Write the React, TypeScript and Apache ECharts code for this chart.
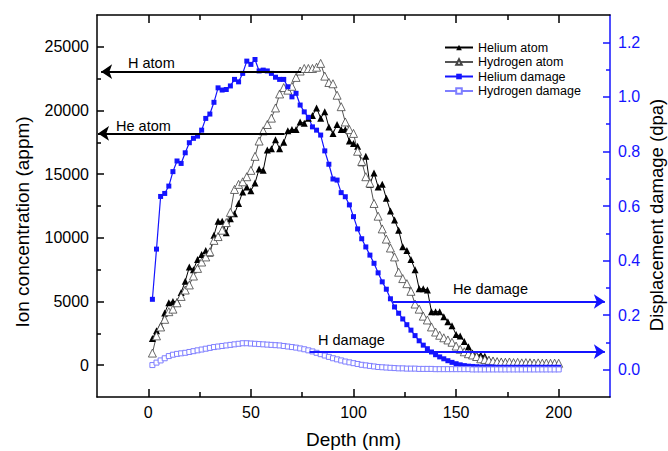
import React, { useEffect, useRef } from "react";
import * as echarts from "echarts";

const depth = [
  2, 4, 6, 8, 10, 12, 14, 16, 18, 20,
  22, 24, 26, 28, 30, 32, 34, 36, 38, 40,
  42, 44, 46, 48, 50, 52, 54, 56, 58, 60,
  62, 64, 66, 68, 70, 72, 74, 76, 78, 80,
  82, 84, 86, 88, 90, 92, 94, 96, 98, 100,
  102, 104, 106, 108, 110, 112, 114, 116, 118, 120,
  122, 124, 126, 128, 130, 132, 134, 136, 138, 140,
  142, 144, 146, 148, 150, 152, 154, 156, 158, 160,
  162, 164, 166, 168, 170, 172, 174, 176, 178, 180,
  182, 184, 186, 188, 190, 192, 194, 196, 198, 200,
];

const heliumAtom = [
  2100, 2700, 3100, 4100, 4900, 5000, 5000, 5700, 6600, 7700,
  7500, 8300, 8700, 9000, 8800, 10200, 11300, 11300, 10400, 11500,
  11900, 12700, 13600, 14000, 13700, 14300, 15400, 15300, 16900, 17000,
  17700, 17000, 17500, 18400, 18500, 18500, 19100, 19000, 19400, 19600,
  20200, 19400, 19900, 18700, 18200, 18900, 18500, 18500, 17600, 17400,
  17200, 15900, 16400, 14200, 15100, 14000, 14200, 13100, 12100, 11400,
  10600, 9300, 9000, 8300, 7500, 6000, 6000, 5900, 4200, 4200,
  4200, 3800, 3400, 3100, 2400, 2300, 1850, 1450, 950, 800,
  800, 700, 450, 350, 300, 250, 250, 150, 100, 100,
  80, 150, 230, 100, 60, 50, 50, 40, 30, 30,
];

const hydrogenAtom = [
  950, 2300, 3000, 3600, 4200, 4400, 4900, 5400, 5900, 6300,
  7000, 7600, 8100, 8500, 8900, 9800, 10100, 10600, 11200, 12000,
  13800, 14200, 14400, 14800, 15300, 16400, 17600, 18400, 18900, 19400,
  20200, 21300, 21800, 21600, 21900, 22600, 23100, 23300, 23300, 23300,
  23400, 23700, 22700, 22200, 22100, 21200, 20300, 19100, 18500, 18200,
  16800, 16000, 14800, 14300, 12700, 11700, 10700, 9900, 9200, 8500,
  7300, 6800, 6400, 5800, 4800, 4400, 3850, 3550, 3000, 2600,
  2350, 2150, 1980, 1800, 1500, 1250, 1050, 900, 800, 680,
  500, 450, 380, 330, 280, 250, 230, 250, 200, 220,
  180, 200, 190, 170, 180, 160, 170, 150, 160, 150,
];

const heliumDamage = [
  0.258, 0.442, 0.635, 0.646, 0.673, 0.726, 0.765, 0.756, 0.795, 0.832,
  0.848, 0.856, 0.878, 0.921, 0.937, 0.98, 1.033, 1.025, 1.027, 1.04,
  1.064, 1.055, 1.086, 1.131, 1.119, 1.137, 1.095, 1.098, 1.095, 1.086,
  1.072, 1.064, 1.064, 1.037, 1.0, 1.013, 0.97, 0.945, 0.925, 0.89,
  0.878, 0.86, 0.802, 0.753, 0.699, 0.695, 0.649, 0.634, 0.604, 0.561,
  0.516, 0.48, 0.45, 0.42, 0.39, 0.355, 0.322, 0.295, 0.26, 0.23,
  0.207, 0.186, 0.165, 0.145, 0.125, 0.106, 0.09, 0.077, 0.065, 0.055,
  0.047, 0.04, 0.033, 0.027, 0.022, 0.018, 0.015, 0.013, 0.012, 0.011,
  0.01, 0.01, 0.01, 0.01, 0.009, 0.009, 0.009, 0.009, 0.009, 0.009,
  0.009, 0.009, 0.009, 0.009, 0.009, 0.009, 0.009, 0.009, 0.009, 0.009,
];

const hydrogenDamage = [
  0.017, 0.026, 0.034, 0.042, 0.05, 0.055, 0.058, 0.06, 0.062, 0.065,
  0.068, 0.071, 0.074, 0.077, 0.08, 0.083, 0.085, 0.087, 0.089, 0.091,
  0.093, 0.095, 0.097, 0.097, 0.096, 0.095, 0.094, 0.093, 0.092, 0.091,
  0.09, 0.089, 0.087, 0.085, 0.083, 0.081, 0.078, 0.075, 0.071, 0.067,
  0.062, 0.057, 0.052, 0.047, 0.042, 0.038, 0.034, 0.03, 0.027, 0.024,
  0.021, 0.018, 0.016, 0.014, 0.012, 0.01, 0.009, 0.008, 0.007, 0.006,
  0.005, 0.005, 0.004, 0.004, 0.004, 0.003, 0.003, 0.003, 0.003, 0.002,
  0.002, 0.002, 0.002, 0.002, 0.002, 0.002, 0.002, 0.002, 0.001, 0.001,
  0.001, 0.001, 0.001, 0.001, 0.001, 0.001, 0.001, 0.001, 0.001, 0.001,
  0.001, 0.001, 0.001, 0.001, 0.001, 0.001, 0.001, 0.001, 0.001, 0.001,
];

const xMajorTicks = [0, 50, 100, 150, 200];
const xMinorTicks = [25, 75, 125, 175];
const leftMajorTicks = [0, 5000, 10000, 15000, 20000, 25000];
const leftMinorTicks = [2500, 7500, 12500, 17500, 22500];
const rightMajorTicks = [0, 0.2, 0.4, 0.6, 0.8, 1.0, 1.2];
const rightMinorTicks = [0.1, 0.3, 0.5, 0.7, 0.9, 1.1];

// annotation arrows: [fromDepth, toDepth, level]
const hAtomArrow = [74.5, -23, 23050];
const heAtomArrow = [66.4, -24.5, 18200];
const heDamageArrow = [119, 222.5, 0.25];
const hDamageArrow = [78.6, 222.5, 0.066];

const FONT = "'Liberation Sans', Arial, sans-serif";
const BLUE = "#1414ff";
const LIGHT_BLUE = "#7f7fff";

function pairs(a: number[], b: number[]) {
  return a.map((x, i) => [x, b[i]]);
}

function arrowSegment(a: number[]) {
  return [{ coord: [a[0], a[2]] }, { coord: [a[1], a[2]] }];
}

function arrowLines(segs: number[][], color: string) {
  return {
    silent: true,
    symbol: ["none", "arrow"],
    symbolSize: 11,
    label: { show: false },
    lineStyle: { color, width: 2, type: "solid" },
    emphasis: { disabled: true },
    data: segs.map(arrowSegment),
  };
}

function note(text: string, x: number, y: number) {
  return {
    type: "text",
    x,
    y,
    style: { text, fontSize: 14.5, fontFamily: FONT, fill: "#000", align: "left", verticalAlign: "middle" },
  };
}

export default function App() {
  const ref = useRef<HTMLDivElement>(null);
  useEffect(() => {
    if (!ref.current) return;
    const chart = echarts.init(ref.current, undefined, { renderer: "svg" });
    const xBase = {
      type: "value",
      min: -25,
      max: 225,
      splitLine: { show: false },
    };
    const option: any = {
      animation: false,
      backgroundColor: "#fff",
      grid: {
        left: 97,
        right: 58,
        top: 15,
        bottom: 54,
        containLabel: false,
        outerBoundsMode: "none",
      },
      legend: {
        orient: "vertical",
        left: 439,
        top: 36,
        itemWidth: 28,
        itemHeight: 7,
        itemGap: 1.5,
        textStyle: { fontSize: 12.5, color: "#000", fontFamily: FONT, lineHeight: 13 },
        data: ["Helium atom", "Hydrogen atom", "Helium damage", "Hydrogen damage"],
      },
      xAxis: [
        {
          ...xBase,
          position: "bottom",
          axisLine: { show: true, onZero: false, lineStyle: { color: "#000", width: 1.5 } },
          axisTick: { show: true, inside: true, length: 8, customValues: xMajorTicks, lineStyle: { color: "#000", width: 1.5 } },
          axisLabel: { show: true, customValues: xMajorTicks, fontSize: 16, color: "#000", margin: 7, fontFamily: FONT, formatter: (v: number) => String(v) },
          name: "Depth (nm)",
          nameLocation: "middle",
          nameGap: 33,
          nameTextStyle: { fontSize: 19, color: "#000", fontFamily: FONT },
        },
        {
          ...xBase,
          position: "bottom",
          axisLine: { show: false, onZero: false },
          axisTick: { show: true, inside: true, length: 5, customValues: xMinorTicks, lineStyle: { color: "#000", width: 1.5 } },
          axisLabel: { show: false },
        },
        {
          ...xBase,
          position: "top",
          axisLine: { show: true, onZero: false, lineStyle: { color: "#000", width: 1.5 } },
          axisTick: { show: true, inside: true, length: 8, customValues: xMajorTicks, lineStyle: { color: "#000", width: 1.5 } },
          axisLabel: { show: false },
        },
        {
          ...xBase,
          position: "top",
          axisLine: { show: false, onZero: false },
          axisTick: { show: true, inside: true, length: 5, customValues: xMinorTicks, lineStyle: { color: "#000", width: 1.5 } },
          axisLabel: { show: false },
        },
      ],
      yAxis: [
        {
          type: "value",
          position: "left",
          min: -2500,
          max: 27500,
          splitLine: { show: false },
          axisLine: { show: true, onZero: false, lineStyle: { color: "#000", width: 1.5 } },
          axisTick: { show: true, inside: true, length: 7, customValues: leftMajorTicks, lineStyle: { color: "#000", width: 1.5 } },
          axisLabel: { show: true, customValues: leftMajorTicks, fontSize: 16, color: "#000", margin: 8, fontFamily: FONT, formatter: (v: number) => String(v) },
        },
        {
          type: "value",
          position: "left",
          min: -2500,
          max: 27500,
          splitLine: { show: false },
          axisLine: { show: false, onZero: false },
          axisTick: { show: true, inside: true, length: 4, customValues: leftMinorTicks, lineStyle: { color: "#000", width: 1.5 } },
          axisLabel: { show: false },
        },
        {
          type: "value",
          position: "right",
          min: -0.1,
          max: 1.3,
          splitLine: { show: false },
          axisLine: { show: true, onZero: false, lineStyle: { color: BLUE, width: 1.5 } },
          axisTick: { show: true, inside: true, length: 7, customValues: rightMajorTicks, lineStyle: { color: BLUE, width: 1.5 } },
          axisLabel: {
            show: true,
            customValues: rightMajorTicks,
            fontSize: 16,
            color: BLUE,
            margin: 8,
            fontFamily: FONT,
            formatter: (v: number) => v.toFixed(1),
          },
        },
        {
          type: "value",
          position: "right",
          min: -0.1,
          max: 1.3,
          splitLine: { show: false },
          axisLine: { show: false, onZero: false },
          axisTick: { show: true, inside: true, length: 4, customValues: rightMinorTicks, lineStyle: { color: BLUE, width: 1.5 } },
          axisLabel: { show: false },
        },
      ],
      series: [
        {
          name: "Helium atom",
          type: "line",
          xAxisIndex: 0,
          yAxisIndex: 0,
          data: pairs(depth, heliumAtom),
          symbol: "triangle",
          symbolSize: 7,
          showSymbol: true,
          showAllSymbol: true,
          lineStyle: { color: "#000", width: 1 },
          itemStyle: { color: "#000" },
        },
        {
          name: "Hydrogen atom",
          type: "line",
          xAxisIndex: 0,
          yAxisIndex: 0,
          data: pairs(depth, hydrogenAtom),
          symbol: "triangle",
          symbolSize: 8,
          showSymbol: true,
          showAllSymbol: true,
          lineStyle: { color: "#555", width: 1 },
          itemStyle: { color: "#fff", borderColor: "#444", borderWidth: 0.8 },
        },
        {
          name: "Helium damage",
          type: "line",
          xAxisIndex: 0,
          yAxisIndex: 2,
          data: pairs(depth, heliumDamage),
          symbol: "rect",
          symbolSize: 5,
          showSymbol: true,
          showAllSymbol: true,
          lineStyle: { color: BLUE, width: 1.2 },
          itemStyle: { color: BLUE },
        },
        {
          name: "Hydrogen damage",
          type: "line",
          xAxisIndex: 0,
          yAxisIndex: 2,
          data: pairs(depth, hydrogenDamage),
          symbol: "rect",
          symbolSize: 5,
          showSymbol: true,
          showAllSymbol: true,
          lineStyle: { color: LIGHT_BLUE, width: 1 },
          itemStyle: { color: "#fff", borderColor: LIGHT_BLUE, borderWidth: 1 },
        },
        {
          name: "atomArrows",
          type: "line",
          xAxisIndex: 0,
          yAxisIndex: 0,
          data: [],
          markLine: arrowLines([hAtomArrow, heAtomArrow], "#000"),
        },
        {
          name: "damageArrows",
          type: "line",
          xAxisIndex: 0,
          yAxisIndex: 2,
          data: [],
          markLine: arrowLines([heDamageArrow, hDamageArrow], BLUE),
        },
      ],
      graphic: [
        note("H atom", 128, 63),
        note("He atom", 116, 126),
        note("He damage", 453, 289),
        note("H damage", 318, 340),
        {
          type: "text",
          x: 22,
          y: 222,
          rotation: Math.PI / 2,
          style: { text: "Ion concentration (appm)", fontSize: 19, fontFamily: FONT, fill: "#000", align: "center", verticalAlign: "middle" },
        },
        {
          type: "text",
          x: 656,
          y: 215,
          rotation: Math.PI / 2,
          style: { text: "Displacement damage (dpa)", fontSize: 18.5, fontFamily: FONT, fill: "#000", align: "center", verticalAlign: "middle" },
        },
      ],
    };
    chart.setOption(option);
    return () => chart.dispose();
  }, []);
  return (
    <div
      ref={ref}
      style={{ position: "fixed", left: 0, top: 0, width: 668, height: 451 }}
    />
  );
}
